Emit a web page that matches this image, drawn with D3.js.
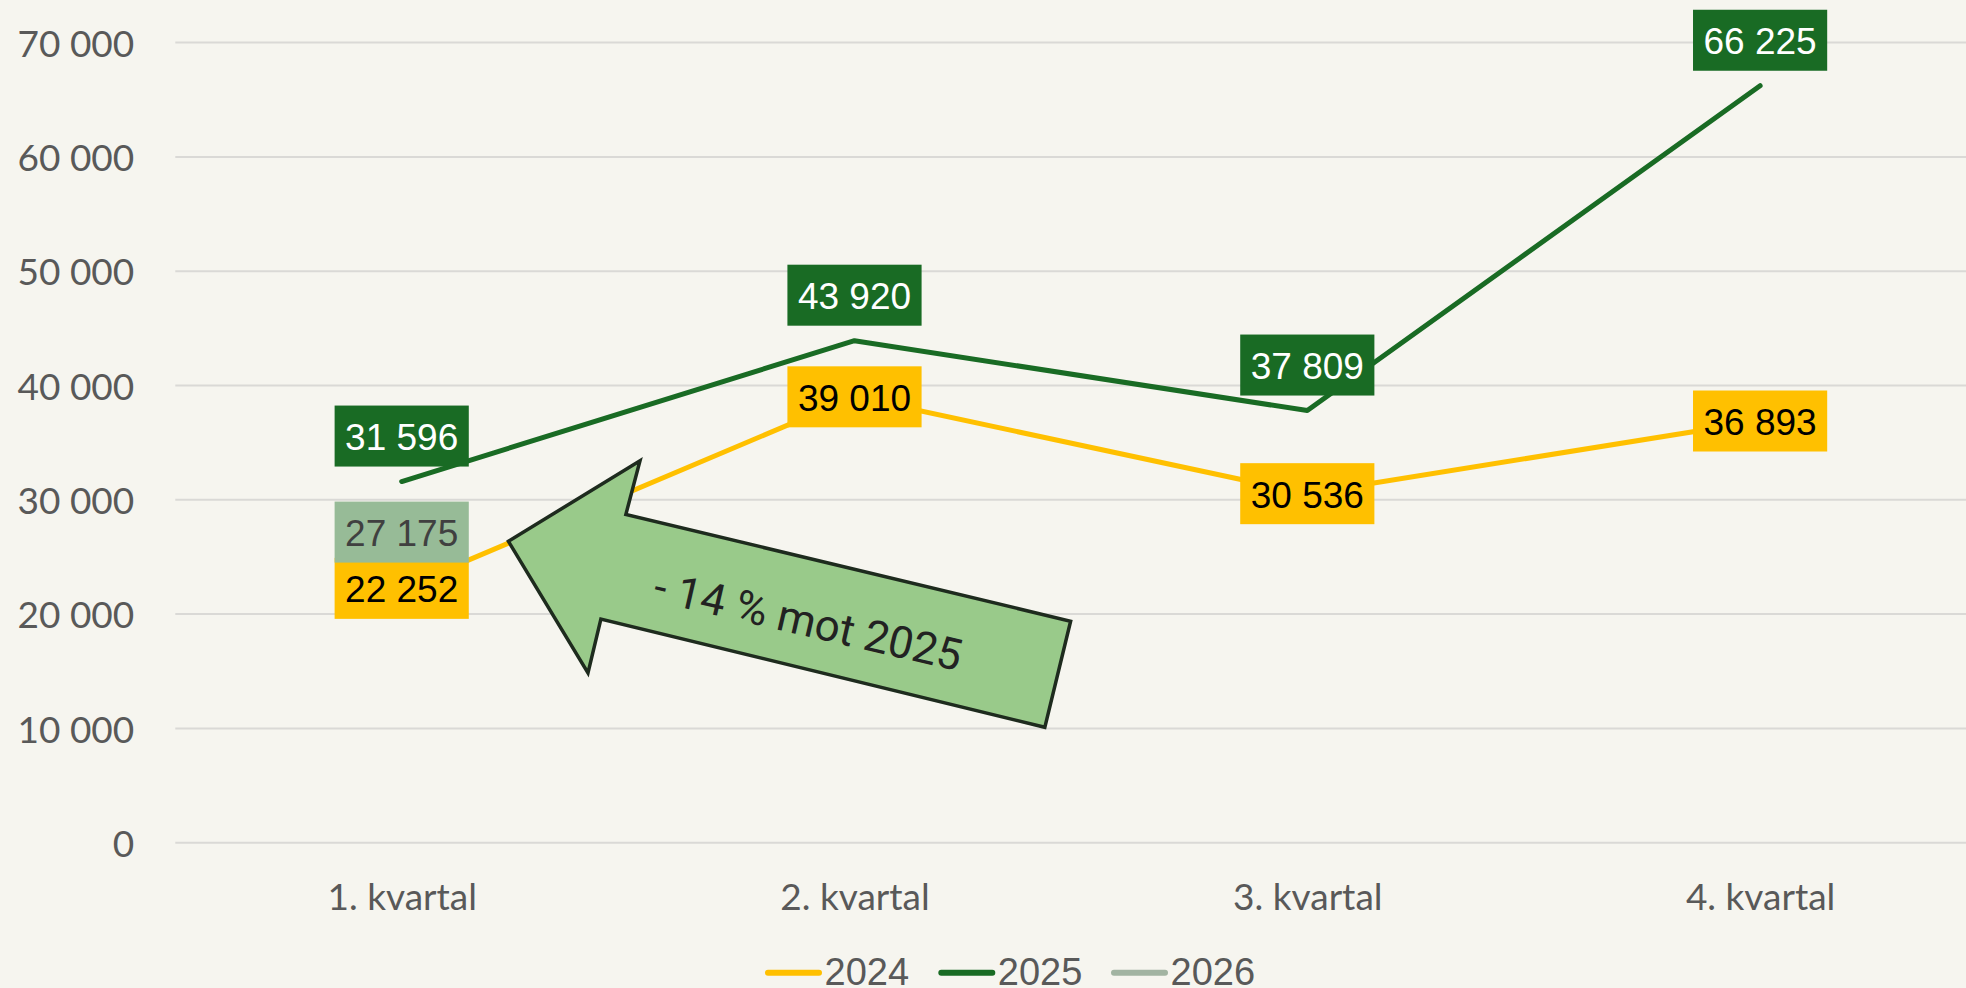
<!DOCTYPE html>
<html>
<head>
<meta charset="utf-8">
<script src="https://cdn.jsdelivr.net/npm/d3@7"></script>
<style>
  html, body { margin: 0; padding: 0; background: #F6F5EF; }
  svg { display: block; }
</style>
</head>
<body>
<svg id="chart" width="1966" height="988"></svg>
<script>
// ---- data ----
const categories = ["1. kvartal", "2. kvartal", "3. kvartal", "4. kvartal"];
const values2024 = [22252, 39010, 30536, 36893];
const values2025 = [31596, 43920, 37809, 66225];
const values2026 = [27175, null, null, null];
const yTickValues = [0, 10000, 20000, 30000, 40000, 50000, 60000, 70000];
const seriesNames = ["2024", "2025", "2026"];
// annotation arrow, vertices in (category index, value) space
const arrowVertices = [
  [0.2357, 26370], [0.5263, 33421], [0.4951, 28723], [1.4773, 19379],
  [1.4203, 10096], [0.4399, 19571], [0.4114, 14847]
];
const arrowLabel = "- 14 % mot 2025";
const arrowLabelAt = [0.8977, 19450];

// ---- styles ----
const colors = { "2024": "#FFC000", "2025": "#196B24", "2026": "#A2B4A2" };
const labelFill = { "2024": "#FFC000", "2025": "#196B24", "2026": "#97BB97" };
const labelText = { "2024": "#000000", "2025": "#FFFFFF", "2026": "#404040" };

const W = 1966, H = 988;
const plotLeft = 175.3, plotRight = 1986.5, plotTop = 42.6, plotBottom = 842.7;

const svg = d3.select("#chart");
svg.append("rect").attr("width", W).attr("height", H).attr("fill", "#F6F5EF");

const x = d3.scalePoint().domain(categories).range([plotLeft, plotRight]).padding(0.5);
const xi = d3.scaleLinear().domain([0, categories.length - 1])
  .range([x(categories[0]), x(categories[categories.length - 1])]);
const y = d3.scaleLinear().domain([0, 70000]).range([plotBottom, plotTop]);

const fmt = d3.formatLocale({ decimal: ",", thousands: " ", grouping: [3], currency: ["", ""] }).format(",d");

// gridlines
svg.append("g").selectAll("line").data(yTickValues).join("line")
  .attr("x1", plotLeft).attr("x2", plotRight)
  .attr("y1", d => y(d)).attr("y2", d => y(d))
  .attr("stroke", "#DAD9D6").attr("stroke-width", 2);

// y axis
const yAxis = svg.append("g").attr("transform", `translate(${plotLeft},0)`)
  .call(d3.axisLeft(y).tickValues(yTickValues).tickFormat(fmt).tickSize(0).tickPadding(41));
yAxis.select(".domain").remove();
yAxis.selectAll("text").attr("dy", "0.37em")
  .attr("font-family", "Lato, 'Open Sans', sans-serif").attr("font-size", 37).attr("fill", "#595959");

// x axis
const xAxis = svg.append("g").attr("transform", `translate(0,${plotBottom})`)
  .call(d3.axisBottom(x).tickSize(0).tickPadding(41));
xAxis.select(".domain").remove();
xAxis.selectAll("text")
  .attr("font-family", "Lato, 'Open Sans', sans-serif").attr("font-size", 37).attr("fill", "#595959");

// lines
const line = d3.line().defined(d => d.v != null).x(d => x(d.c)).y(d => y(d.v));
const seriesData = {
  "2024": values2024.map((v, i) => ({ c: categories[i], v })),
  "2025": values2025.map((v, i) => ({ c: categories[i], v })),
  "2026": values2026.map((v, i) => ({ c: categories[i], v }))
};
["2024", "2025", "2026"].forEach(s => {
  svg.append("path").datum(seriesData[s]).attr("d", line)
    .attr("fill", "none").attr("stroke", colors[s]).attr("stroke-width", 5)
    .attr("stroke-linecap", "round").attr("stroke-linejoin", "round");
});

// arrow annotation
svg.append("polygon")
  .attr("points", arrowVertices.map(p => [xi(p[0]), y(p[1])].join(",")).join(" "))
  .attr("fill", "#99CA8A").attr("stroke", "#1E2B1E").attr("stroke-width", 3.5)
  .attr("stroke-linejoin", "miter");
const ax = xi(arrowLabelAt[0]), ay = y(arrowLabelAt[1]);
svg.append("text").text(arrowLabel)
  .attr("x", ax).attr("y", ay).attr("text-anchor", "middle").attr("dy", "0.36em")
  .attr("transform", `rotate(13, ${ax}, ${ay})`)
  .attr("font-family", "Roboto, 'Liberation Sans', Arial, sans-serif").attr("font-size", 44)
  .attr("fill", "#222222");

// data labels
const boxH = 61, padX = 10.5, gap = 15;
const placement = { "2024": "center", "2025": "above", "2026": "center" };
["2024", "2025", "2026"].forEach(s => {
  seriesData[s].filter(d => d.v != null).forEach(d => {
    const px = x(d.c), py = y(d.v);
    const g = svg.append("g");
    const rect = g.append("rect").attr("fill", labelFill[s]);
    const t = g.append("text").text(fmt(d.v))
      .attr("font-family", "'Liberation Sans', Arial, sans-serif").attr("font-size", 37)
      .attr("fill", labelText[s]).attr("text-anchor", "middle");
    const tw = t.node().getComputedTextLength();
    const bw = tw + 2 * padX;
    const cy = placement[s] === "above" ? py - gap - boxH / 2 : py;
    rect.attr("x", px - bw / 2).attr("y", cy - boxH / 2).attr("width", bw).attr("height", boxH);
    t.attr("x", px).attr("y", cy + 14);
  });
});

// legend
const legendItems = [
  { name: seriesNames[0], x0: 765 },
  { name: seriesNames[1], x0: 938.3 },
  { name: seriesNames[2], x0: 1111 }
];
const lg = svg.append("g");
legendItems.forEach(it => {
  lg.append("line").attr("x1", it.x0 + 3).attr("x2", it.x0 + 54)
    .attr("y1", 972.7).attr("y2", 972.7)
    .attr("stroke", colors[it.name]).attr("stroke-width", 6).attr("stroke-linecap", "round");
  lg.append("text").text(it.name).attr("x", it.x0 + 59.5).attr("y", 985)
    .attr("font-family", "'Liberation Sans', Arial, sans-serif").attr("font-size", 38)
    .attr("fill", "#595959");
});
</script>
</body>
</html>
